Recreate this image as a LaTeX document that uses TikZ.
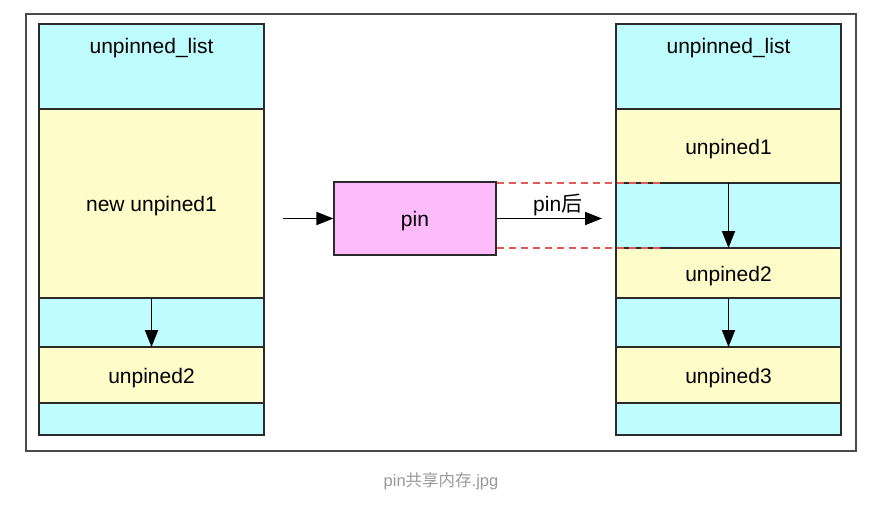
\documentclass[tikz,border=0pt]{standalone}
\usepackage{fontspec}
\setmainfont{Liberation Sans}
\newfontfamily\cjk{Noto Sans CJK SC}
\usetikzlibrary{arrows.meta,positioning}

\newcommand\cellfont{\fontsize{21pt}{25pt}\selectfont}
\newcommand\capfont{\fontsize{16.5pt}{20pt}\selectfont}
\definecolor{cellcyan}{HTML}{BFFCFD}
\definecolor{cellyellow}{HTML}{FEFCC8}
\definecolor{pinpink}{HTML}{FDBBFC}
\definecolor{edgegray}{HTML}{2B2B2B}
\definecolor{framegray}{HTML}{4A4A4A}
\definecolor{dashred}{HTML}{E05A5A}
\definecolor{capgray}{HTML}{9A9A9A}

\begin{document}
\begin{tikzpicture}[x=1pt, y=-1pt,
  cell/.style={draw=edgegray, line width=1.2pt, minimum width=225pt, outer sep=0pt, inner sep=0pt, font=\cellfont, text height=16pt, text depth=0pt},
  cy/.style={cell, fill=cellcyan},
  yl/.style={cell, fill=cellyellow},
  lbl/.style={font=\cellfont, anchor=north, inner sep=0pt, yshift=-14pt},
  pinbox/.style={draw=edgegray, line width=1.2pt, fill=pinpink, minimum width=162pt, minimum height=73pt, font=\cellfont, text height=16pt, text depth=0pt},
  arr/.style={->, line width=1.8pt},
  redline/.style={draw=dashred, line width=1.2pt, dash pattern=on 7pt off 5pt},
  >={Triangle[length=17pt,width=13pt]}, node distance=0pt
]
  \path[fill=white, use as bounding box] (0,0) rectangle (874,505);
  \draw[framegray, line width=1.6pt] (26,14) rectangle (856,451);

  \node[cy, minimum height=85pt, anchor=north, label={[lbl]north:unpinned\_list}] (l0) at (151.5,24) {};
  \node[yl, minimum height=189pt, below=of l0] (l1) {new unpined1};
  \node[cy, minimum height=49pt, below=of l1] (l2) {};
  \node[yl, minimum height=56pt, below=of l2] (l3) {unpined2};
  \node[cy, minimum height=32pt, below=of l3] (l4) {};

  \node[cy, minimum height=85pt, right=352pt of l0, label={[lbl]north:unpinned\_list}] (r0) {};
  \node[yl, minimum height=74pt, below=of r0] (r1) {unpined1};
  \node[cy, minimum height=65pt, below=of r1] (r2) {};
  \node[yl, minimum height=50pt, below=of r2] (r3) {unpined2};
  \node[cy, minimum height=49pt, below=of r3] (r4) {};
  \node[yl, minimum height=56pt, below=of r4] (r5) {unpined3};
  \node[cy, minimum height=32pt, below=of r5] (r6) {};

  \node[pinbox] (pin) at (415,218.5) {pin};
  \coordinate (in) at (283,218.5);
  \coordinate (out) at (602,218.5);

  \draw[arr] (in) -- (pin.west);
  \draw[arr] (pin.east) -- node[font=\cellfont, above, inner sep=1.5pt, pos=0.58] (after) {pin{\cjk 后}} (out);
  \draw[arr] (l1.south) -- (l3.north);
  \draw[arr] (r1.south) -- (r3.north);
  \draw[arr] (r3.south) -- (r5.north);

  \draw[redline] (pin.east |- r1.south) -- ([xshift=46pt]r1.south west);
  \draw[redline] (pin.east |- r2.south) -- ([xshift=46pt]r2.south west);

  \node[font=\capfont, text=capgray] (cap) at (441,481) {pin{\cjk 共享内存}.jpg};
\end{tikzpicture}
\end{document}
